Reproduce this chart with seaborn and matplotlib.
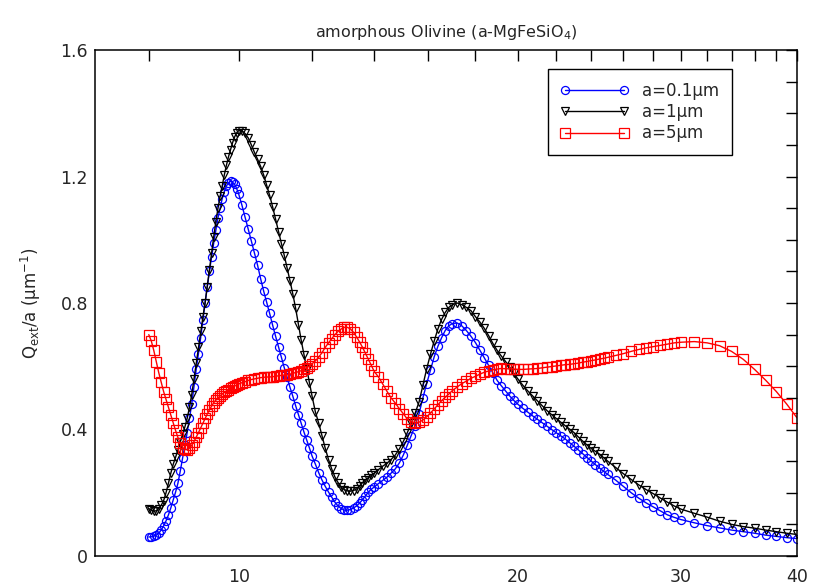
import matplotlib
matplotlib.use("Agg")
import matplotlib.pyplot as plt
from matplotlib.ticker import FixedLocator, FixedFormatter, NullFormatter
import pandas as pd
import seaborn as sns

# wavelength grid (micron)
wavelength = [
    8.00, 8.05, 8.10, 8.15, 8.20, 8.25, 8.30, 8.35, 8.40, 8.45,
    8.50, 8.55, 8.60, 8.65, 8.70, 8.75, 8.80, 8.85, 8.90, 8.95,
    9.00, 9.05, 9.10, 9.15, 9.20, 9.25, 9.30, 9.35, 9.40, 9.45,
    9.50, 9.55, 9.60, 9.65, 9.70, 9.75, 9.80, 9.85, 9.90, 9.95, 10.00,
    10.08, 10.16, 10.24, 10.32, 10.40, 10.48, 10.56, 10.64, 10.72, 10.80,
    10.88, 10.96, 11.04, 11.12, 11.20, 11.28, 11.36, 11.44, 11.52, 11.60,
    11.68, 11.76, 11.84, 11.92, 12.00,
    12.1, 12.2, 12.3, 12.4, 12.5, 12.6, 12.7, 12.8, 12.9, 13.0,
    13.1, 13.2, 13.3, 13.4, 13.5, 13.6, 13.7, 13.8, 13.9, 14.0,
    14.15, 14.30, 14.45, 14.60, 14.75, 14.90, 15.05, 15.20, 15.35, 15.50,
    15.65, 15.80, 15.95, 16.10, 16.25, 16.40, 16.55, 16.70, 16.85, 17.00,
    17.2, 17.4, 17.6, 17.8, 18.0, 18.2, 18.4, 18.6, 18.8, 19.0,
    19.2, 19.4, 19.6, 19.8, 20.0,
    20.25, 20.50, 20.75, 21.00, 21.25, 21.50, 21.75, 22.00, 22.25, 22.50,
    22.75, 23.00, 23.25, 23.50, 23.75, 24.00, 24.25, 24.50, 24.75, 25.00,
    25.5, 26.0, 26.5, 27.0, 27.5, 28.0, 28.5, 29.0, 29.5, 30.0,
    31.0, 32.0, 33.0, 34.0, 35.0, 36.0, 37.0, 38.0, 39.0, 40.0]

q_a01 = [
    0.060, 0.061, 0.063, 0.066, 0.072, 0.082, 0.095, 0.111, 0.130, 0.152,
    0.177, 0.202, 0.230, 0.268, 0.310, 0.350, 0.390, 0.435, 0.480, 0.535,
    0.590, 0.640, 0.690, 0.745, 0.800, 0.850, 0.900, 0.945, 0.990, 1.030,
    1.070, 1.100, 1.130, 1.152, 1.170, 1.180, 1.185, 1.182, 1.175, 1.162, 1.145,
    1.110, 1.072, 1.034, 0.996, 0.958, 0.920, 0.877, 0.838, 0.803, 0.767,
    0.730, 0.695, 0.662, 0.628, 0.595, 0.565, 0.533, 0.505, 0.475, 0.447,
    0.420, 0.392, 0.367, 0.342, 0.316,
    0.290, 0.263, 0.240, 0.220, 0.202, 0.186, 0.170, 0.158, 0.150, 0.145,
    0.145, 0.147, 0.152, 0.158, 0.167, 0.178, 0.190, 0.202, 0.211, 0.218,
    0.229, 0.239, 0.249, 0.262, 0.275, 0.294, 0.319, 0.350, 0.380, 0.412,
    0.450, 0.500, 0.545, 0.588, 0.630, 0.663, 0.690, 0.713, 0.728, 0.735,
    0.737, 0.728, 0.713, 0.695, 0.675, 0.651, 0.627, 0.603, 0.579, 0.555,
    0.538, 0.522, 0.506, 0.492, 0.480,
    0.467, 0.455, 0.443, 0.432, 0.421, 0.410, 0.400, 0.390, 0.380, 0.370,
    0.358, 0.347, 0.335, 0.323, 0.311, 0.300, 0.289, 0.278, 0.268, 0.258,
    0.240, 0.220, 0.200, 0.183, 0.168, 0.155, 0.142, 0.130, 0.122, 0.115,
    0.105, 0.096, 0.089, 0.082, 0.077, 0.072, 0.066, 0.062, 0.058, 0.055]

q_a1 = [
    0.150, 0.145, 0.142, 0.143, 0.150, 0.160, 0.175, 0.200, 0.230, 0.262,
    0.290, 0.312, 0.335, 0.360, 0.385, 0.408, 0.435, 0.470, 0.510, 0.560,
    0.610, 0.660, 0.710, 0.755, 0.800, 0.852, 0.905, 0.958, 1.010, 1.057,
    1.100, 1.137, 1.170, 1.205, 1.235, 1.262, 1.285, 1.307, 1.325, 1.338, 1.345,
    1.345, 1.336, 1.322, 1.300, 1.276, 1.255, 1.232, 1.205, 1.172, 1.140,
    1.104, 1.065, 1.025, 0.988, 0.950, 0.910, 0.870, 0.828, 0.783, 0.732,
    0.682, 0.637, 0.592, 0.547, 0.505,
    0.455, 0.420, 0.380, 0.340, 0.305, 0.275, 0.250, 0.232, 0.218, 0.210,
    0.206, 0.205, 0.207, 0.212, 0.221, 0.232, 0.241, 0.248, 0.255, 0.262,
    0.273, 0.284, 0.293, 0.305, 0.319, 0.338, 0.362, 0.390, 0.420, 0.452,
    0.487, 0.540, 0.592, 0.638, 0.680, 0.718, 0.748, 0.770, 0.786, 0.795,
    0.800, 0.795, 0.786, 0.776, 0.757, 0.740, 0.720, 0.697, 0.672, 0.650,
    0.632, 0.615, 0.597, 0.578, 0.560,
    0.540, 0.522, 0.506, 0.490, 0.475, 0.460, 0.447, 0.435, 0.423, 0.412,
    0.401, 0.390, 0.376, 0.363, 0.351, 0.340, 0.331, 0.322, 0.311, 0.300,
    0.280, 0.260, 0.242, 0.225, 0.210, 0.197, 0.183, 0.170, 0.158, 0.148,
    0.135, 0.123, 0.110, 0.100, 0.093, 0.088, 0.082, 0.077, 0.072, 0.068]

q_a5 = [
    0.700, 0.680, 0.650, 0.615, 0.580, 0.550, 0.520, 0.495, 0.470, 0.445,
    0.420, 0.397, 0.375, 0.357, 0.343, 0.337, 0.336, 0.341, 0.350, 0.362,
    0.376, 0.390, 0.405, 0.420, 0.435, 0.449, 0.462, 0.474, 0.485, 0.493,
    0.500, 0.506, 0.512, 0.517, 0.522, 0.526, 0.530, 0.534, 0.537, 0.541, 0.544,
    0.548, 0.551, 0.555, 0.558, 0.560, 0.562, 0.564, 0.565, 0.566, 0.566,
    0.567, 0.568, 0.570, 0.571, 0.572, 0.573, 0.575, 0.578, 0.580, 0.583,
    0.586, 0.590, 0.595, 0.601, 0.608,
    0.617, 0.629, 0.643, 0.660, 0.674, 0.687, 0.700, 0.710, 0.718, 0.723,
    0.723, 0.718, 0.707, 0.693, 0.677, 0.660, 0.641, 0.622, 0.603, 0.584,
    0.566, 0.544, 0.521, 0.500, 0.484, 0.466, 0.450, 0.433, 0.424, 0.421,
    0.423, 0.430, 0.440, 0.452, 0.465, 0.478, 0.491, 0.502, 0.512, 0.523,
    0.534, 0.545, 0.553, 0.562, 0.568, 0.575, 0.581, 0.585, 0.589, 0.591,
    0.593, 0.592, 0.592, 0.591, 0.590,
    0.590, 0.591, 0.592, 0.593, 0.595, 0.597, 0.599, 0.601, 0.603, 0.605,
    0.606, 0.608, 0.610, 0.613, 0.615, 0.618, 0.620, 0.623, 0.625, 0.628,
    0.634, 0.640, 0.647, 0.653, 0.658, 0.662, 0.666, 0.670, 0.674, 0.676,
    0.678, 0.674, 0.665, 0.647, 0.622, 0.590, 0.556, 0.520, 0.480, 0.437]

series_labels = ["a=0.1μm", "a=1μm", "a=5μm"]
series_colors = ["#0000ff", "#000000", "#ff0000"]
series_markers = ["o", "v", "s"]
series_msize = [5.8, 6.4, 6.8]

x_major = [10, 20, 30, 40]
x_major_labels = ["10", "20", "30", "40"]
x_minor = [8, 12, 14, 16, 18, 22, 24, 26, 28, 32, 34, 36, 38]
y_major = [0, 0.4, 0.8, 1.2, 1.6]
y_major_labels = ["0", "0.4", "0.8", "1.2", "1.6"]
y_minor = [0.1, 0.2, 0.3, 0.5, 0.6, 0.7, 0.9, 1.0, 1.1, 1.3, 1.4, 1.5]

sns.set_style("white")
plt.rcParams["font.family"] = ["DejaVu Sans"]
plt.rcParams["mathtext.fontset"] = "dejavusans"

n = len(wavelength)
df = pd.DataFrame({
    "wavelength": wavelength * 3,
    "Q": q_a01 + q_a1 + q_a5,
    "size": [series_labels[0]] * n + [series_labels[1]] * n + [series_labels[2]] * n,
})

fig = plt.figure(figsize=(8.13, 5.88), dpi=100)
ax = fig.add_axes([95 / 813, 1 - 556 / 588, (797 - 95) / 813, (556 - 50) / 588])

for lab, col, mk, ms in zip(series_labels, series_colors, series_markers, series_msize):
    sub = df[df["size"] == lab]
    sns.lineplot(data=sub, x="wavelength", y="Q", ax=ax, color=col,
                 marker=mk, markersize=ms, mfc="none", mec=col, mew=0.9,
                 linewidth=1.0, label=lab, estimator=None, errorbar=None,
                 sort=False)

ax.set_xscale("log")
ax.set_xlim(7.0, 40.0)
ax.set_ylim(0, 1.6)
ax.xaxis.set_major_locator(FixedLocator(x_major))
ax.xaxis.set_major_formatter(FixedFormatter(x_major_labels))
ax.xaxis.set_minor_locator(FixedLocator(x_minor))
ax.xaxis.set_minor_formatter(NullFormatter())
ax.yaxis.set_major_locator(FixedLocator(y_major))
ax.yaxis.set_major_formatter(FixedFormatter(y_major_labels))
ax.yaxis.set_minor_locator(FixedLocator(y_minor))

ax.tick_params(which="both", direction="in", top=True, right=True,
               length=8, width=1.0, color="black", labelsize=12.5)
ax.tick_params(axis="x", which="both", pad=9)
ax.tick_params(axis="y", which="both", pad=5)
for s in ax.spines.values():
    s.set_linewidth(1.1)
    s.set_color("black")

ax.set_xlabel("")
ax.set_ylabel(r"Q$_\mathregular{ext}$/a (μm$^\mathregular{-1}$)", fontsize=12)
ax.yaxis.set_label_coords((43 - 95) / 702, 0.5)
ax.set_title(r"amorphous Olivine (a-MgFeSiO$_\mathregular{4}$)", fontsize=11.5, pad=9)

leg = ax.legend(loc="upper right", bbox_to_anchor=(0.907, 0.962),
                borderaxespad=0.0, numpoints=2, fontsize=12, frameon=True,
                fancybox=False, edgecolor="black", framealpha=1,
                handlelength=4.1, handletextpad=0.8, borderpad=0.75,
                labelspacing=0.2)
leg.get_frame().set_linewidth(1.0)

fig.savefig("out.png", dpi=100)
